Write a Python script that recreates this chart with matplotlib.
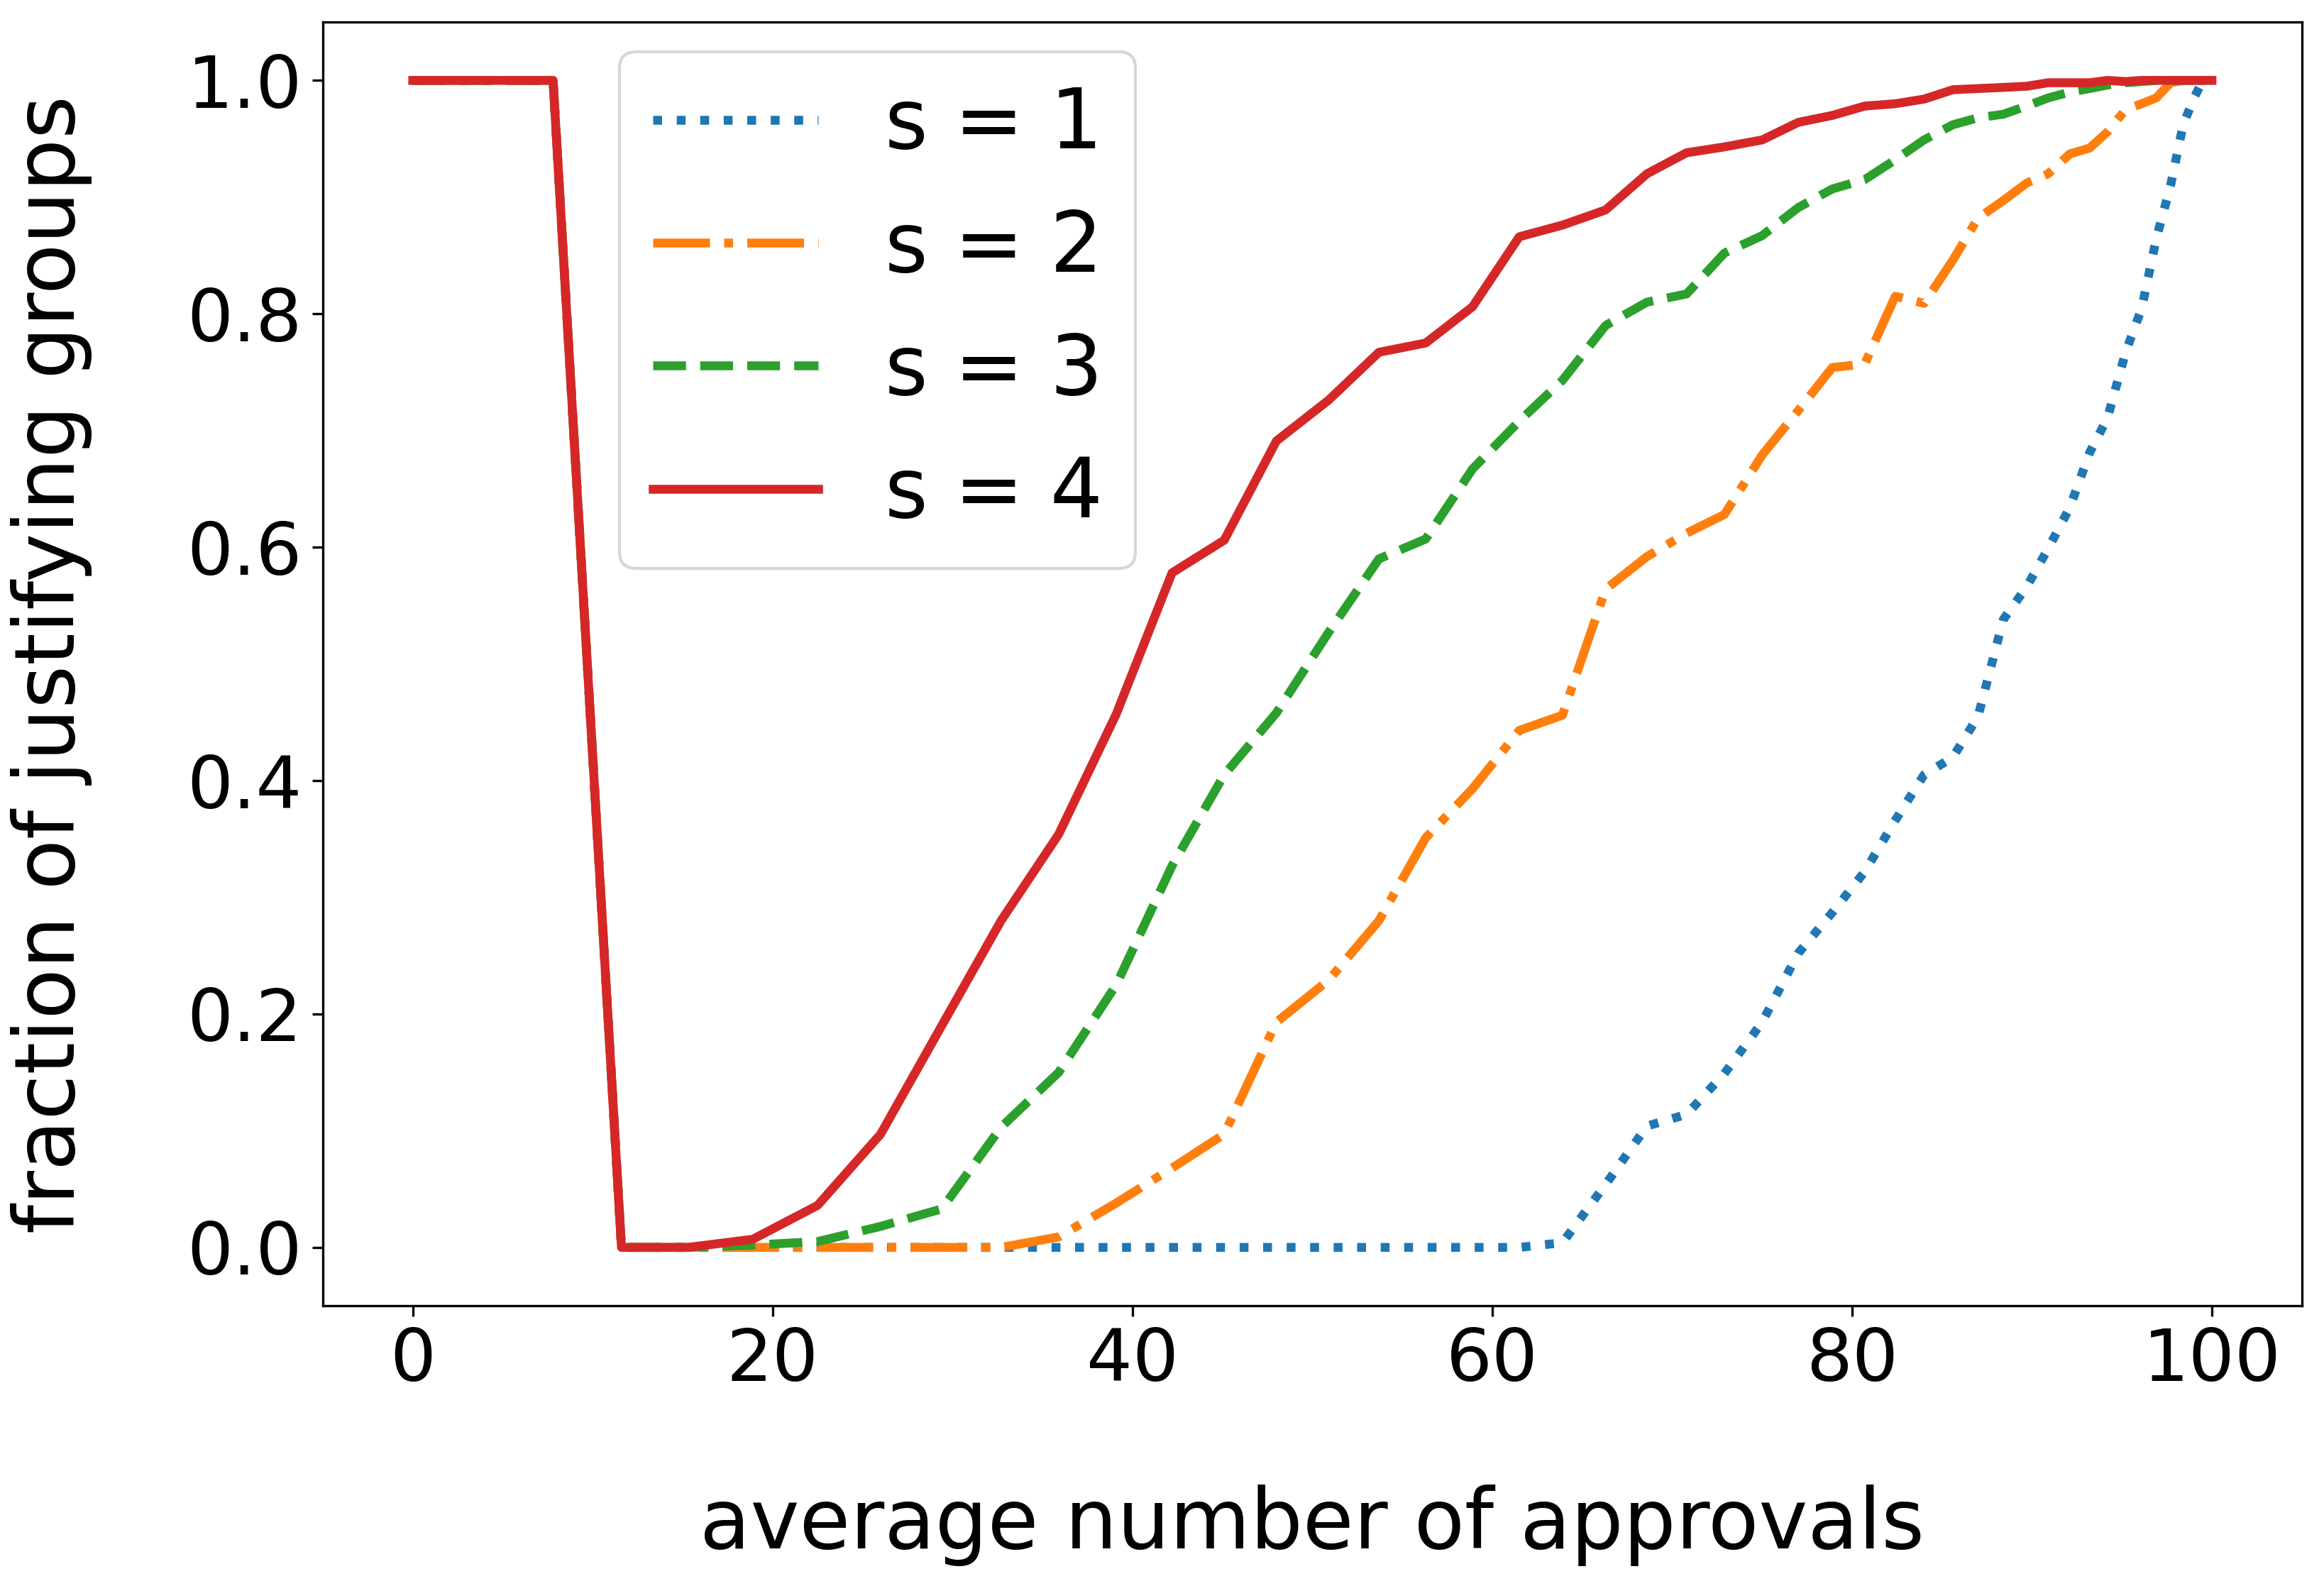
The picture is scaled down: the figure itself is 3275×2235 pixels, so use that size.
import matplotlib
matplotlib.use("Agg")
import matplotlib.pyplot as plt

# average number of approvals (shared x values)
x = [0, 3.9, 7.8, 11.6, 15.3, 18.9, 22.5, 26.0, 29.4, 32.7, 35.9, 39.1, 42.2, 45.1,
     48.0, 50.9, 53.7, 56.3, 58.9, 61.5, 63.9, 66.3, 68.6, 70.8, 72.9, 75.0, 77.0,
     78.9, 80.7, 82.4, 84.0, 85.6, 87.0, 88.4, 89.7, 90.9, 92.1, 93.2, 94.2, 95.2,
     96.1, 96.9, 97.7, 98.4, 99.0, 99.5, 100]

# fraction of justifying groups for s = 1..4
s1 = [1, 1, 1, 0, 0, 0, 0, 0, 0, 0, 0, 0, 0, 0,
      0, 0, 0, 0, 0, 0, 0.004, 0.054, 0.104, 0.114, 0.149, 0.193, 0.252,
      0.287, 0.322, 0.366, 0.405, 0.420, 0.455, 0.538, 0.566, 0.599, 0.634, 0.681, 0.711, 0.767,
      0.805, 0.864, 0.910, 0.962, 0.985, 1.0, 1.0]
s2 = [1, 1, 1, 0, 0, 0, 0, 0, 0, 0, 0.009, 0.038, 0.068, 0.097,
      0.193, 0.229, 0.280, 0.351, 0.393, 0.443, 0.456, 0.564, 0.592, 0.612, 0.628, 0.679, 0.717,
      0.754, 0.757, 0.815, 0.809, 0.846, 0.882, 0.897, 0.912, 0.920, 0.937, 0.942, 0.956, 0.975,
      0.980, 0.985, 0.998, 1.0, 1.0, 1.0, 1.0]
s3 = [1, 1, 1, 0, 0, 0.002, 0.005, 0.018, 0.033, 0.103, 0.150, 0.225, 0.327, 0.405,
      0.458, 0.527, 0.590, 0.607, 0.667, 0.708, 0.743, 0.790, 0.810, 0.817, 0.852, 0.867, 0.891,
      0.907, 0.915, 0.932, 0.949, 0.962, 0.968, 0.971, 0.978, 0.985, 0.990, 0.993, 0.996, 0.998,
      0.999, 1.0, 1.0, 1.0, 1.0, 1.0, 1.0]
s4 = [1, 1, 1, 0, 0, 0.007, 0.036, 0.097, 0.190, 0.280, 0.354, 0.457, 0.578, 0.606,
      0.691, 0.726, 0.767, 0.775, 0.806, 0.866, 0.876, 0.889, 0.920, 0.938, 0.943, 0.949, 0.964,
      0.970, 0.978, 0.980, 0.984, 0.992, 0.993, 0.994, 0.995, 0.998, 0.998, 0.998, 1.0, 0.999,
      1.0, 1.0, 1.0, 1.0, 1.0, 1.0, 1.0]

labels = ["s = 1", "s = 2", "s = 3", "s = 4"]
styles = [":", "-.", "--", "-"]
colors = ["tab:blue", "tab:orange", "tab:green", "tab:red"]

fig = plt.figure(figsize=(3275 / 300, 2235 / 300), dpi=300)
ax = fig.add_axes([0.1389, 0.1767, 0.8516, 0.8094])

for ys, lab, ls, c in zip([s1, s2, s3, s4], labels, styles, colors):
    ax.plot(x, ys, ls, color=c, lw=3.0, label=lab)

ax.set_xticks([0, 20, 40, 60, 80, 100])
ax.set_yticks([0.0, 0.2, 0.4, 0.6, 0.8, 1.0])
ax.tick_params(labelsize=24.5)
ax.set_xlabel("average number of approvals", fontsize=28, labelpad=30)
ax.set_ylabel("fraction of justifying groups", fontsize=28, labelpad=32)

ax.legend(loc="upper left", bbox_to_anchor=(0.15, 0.977), borderaxespad=0,
          fontsize=28)

fig.savefig("out.png", dpi=300)
